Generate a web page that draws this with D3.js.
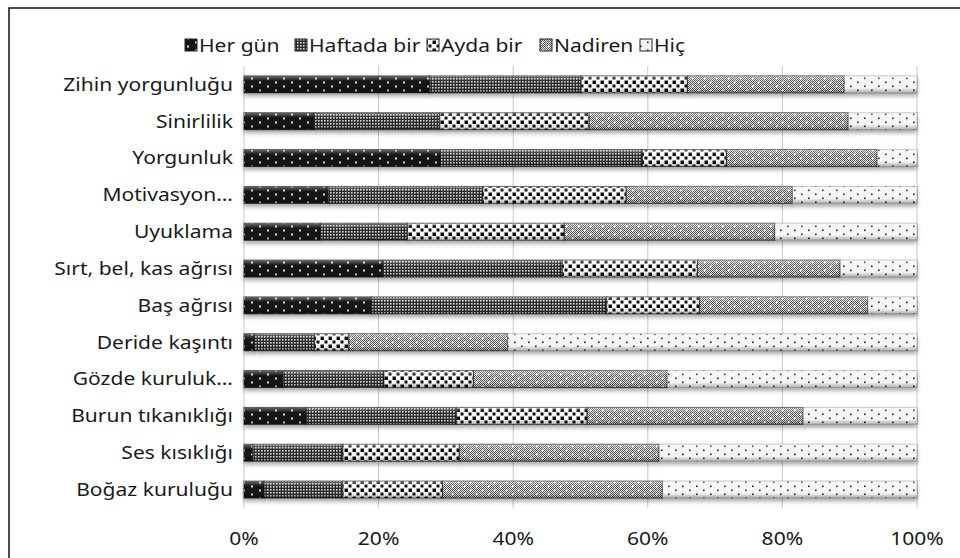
<!DOCTYPE html>
<html><head><meta charset="utf-8">
<script src="https://cdn.jsdelivr.net/npm/d3@7/dist/d3.min.js"></script>
<style>
html,body{margin:0;padding:0;background:#fff;}
svg{display:block;}
text{font-family:"Noto Sans",sans-serif;fill:#1a1a1a;}
</style></head><body>
<svg id="chart" width="960" height="558"></svg>
<script>
const categories = ["Zihin yorgunluğu","Sinirlilik","Yorgunluk","Motivasyon…","Uyuklama","Sırt, bel, kas ağrısı","Baş ağrısı","Deride kaşıntı","Gözde kuruluk…","Burun tıkanıklığı","Ses kısıklığı","Boğaz kuruluğu"];
const seriesNames = ["Her gün","Haftada bir","Ayda bir","Nadiren","Hiç"];
const herGun  = [27.6,10.4,29.2,12.5,11.4,20.6,19.0,1.6,5.8,9.3,1.3,3.0];
const haftada = [22.5,18.7,30.0,23.0,12.9,26.7,34.9,8.9,15.0,22.3,13.4,11.7];
const ayda    = [15.8,22.2,12.5,21.3,23.3,20.1,13.8,5.1,13.3,19.4,17.3,14.8];
const nadiren = [23.3,38.5,22.4,24.7,31.3,21.2,25.0,23.6,28.8,32.1,29.7,32.7];
const hic     = [10.8,10.2,5.9,18.5,21.1,11.4,7.3,60.8,37.1,16.9,38.3,37.8];
const tickValues = [0,20,40,60,80,100];
const tickLabels = ["0%","20%","40%","60%","80%","100%"];

const svg = d3.select("#chart");
const defs = svg.append("defs");
const SX = 1.17, FS = 18;

// frame
svg.append("rect").attr("x",9).attr("y",8).attr("width",1000).attr("height",600)
  .attr("fill","none").attr("stroke","#111").attr("stroke-width",1.5);

// patterns
function pat(id,w,h,bg,build){
  const p = defs.append("pattern").attr("id",id).attr("patternUnits","userSpaceOnUse")
    .attr("width",w).attr("height",h);
  p.append("rect").attr("width",w).attr("height",h).attr("fill",bg);
  build(p);
}
pat("p0",16,8,"#141414",p=>{
  p.append("rect").attr("x",3).attr("y",1.5).attr("width",2).attr("height",2).attr("fill","#ddd");
  p.append("rect").attr("x",11).attr("y",5.5).attr("width",2).attr("height",2).attr("fill","#ddd");
});
pat("p1",3,3,"#2b2b2b",p=>{
  p.append("rect").attr("x",0).attr("y",0).attr("width",1.6).attr("height",1.6).attr("fill","#d8d8d8");
});
pat("p2",8,8,"#fafafa",p=>{
  p.append("rect").attr("x",0.5).attr("y",0.5).attr("width",3.5).attr("height",3.5).attr("fill","#111");
  p.append("rect").attr("x",4.5).attr("y",4.5).attr("width",3).attr("height",3).attr("fill","#111");
});
pat("p3c",2,2,"#e6e6e6",p=>{
  p.append("rect").attr("x",0).attr("y",0).attr("width",1).attr("height",1).attr("fill","#555");
  p.append("rect").attr("x",1).attr("y",1).attr("width",1).attr("height",1).attr("fill","#555");
});
pat("p3",12,8,"url(#p3c)",p=>{
  p.append("rect").attr("x",2).attr("y",1.5).attr("width",1.6).attr("height",1.6).attr("fill","#fff");
  p.append("rect").attr("x",8).attr("y",5.5).attr("width",1.6).attr("height",1.6).attr("fill","#fff");
});
pat("p4",14,8,"#f6f6f6",p=>{
  p.append("rect").attr("x",3).attr("y",1.5).attr("width",1.6).attr("height",1.6).attr("fill","#222");
  p.append("rect").attr("x",10).attr("y",5.5).attr("width",1.6).attr("height",1.6).attr("fill","#222");
});
const fills = ["url(#p0)","url(#p1)","url(#p2)","url(#p3)","url(#p4)"];

const gloss = defs.append("linearGradient").attr("id","gloss").attr("x1",0).attr("y1",0).attr("x2",0).attr("y2",1);
[[0,"#fff",0.35],[0.3,"#fff",0],[0.7,"#000",0],[1,"#000",0.3]].forEach(s=>
  gloss.append("stop").attr("offset",s[0]).attr("stop-color",s[1]).attr("stop-opacity",s[2]));
const shadow = defs.append("filter").attr("id","shadow").attr("x","-5%").attr("y","-30%").attr("width","110%").attr("height","190%");
shadow.append("feDropShadow").attr("dx",0).attr("dy",3).attr("stdDeviation",2)
  .attr("flood-color","#000").attr("flood-opacity",0.35);

const x = d3.scaleLinear().domain([0,100]).range([244,917]);
const y = d3.scaleBand().domain(categories).range([66,508]).paddingInner(0.54).paddingOuter(0.27);

// gridlines
svg.append("g").selectAll("line").data(tickValues).join("line")
  .attr("x1",d=>x(d)).attr("x2",d=>x(d)).attr("y1",66).attr("y2",508)
  .attr("stroke","#c8c8c8").attr("stroke-width",1);

const table = categories.map((c,i)=>({cat:c,"Her gün":herGun[i],"Haftada bir":haftada[i],"Ayda bir":ayda[i],"Nadiren":nadiren[i],"Hiç":hic[i]}));
const stacked = d3.stack().keys(seriesNames)(table);

const gBars = svg.append("g");
stacked.forEach((s,si)=>{
  const g = gBars.append("g");
  g.selectAll("rect.seg").data(s).join("rect").attr("class","seg")
    .attr("x",d=>x(d[0])).attr("width",d=>x(d[1])-x(d[0]))
    .attr("y",d=>y(d.data.cat)).attr("height",y.bandwidth())
    .attr("fill",fills[si]).attr("filter","url(#shadow)")
    .attr("stroke","#1a1a1a").attr("stroke-opacity",si===4?0.25:0.7).attr("stroke-width",1);
  g.selectAll("rect.gl").data(s).join("rect").attr("class","gl")
    .attr("x",d=>x(d[0])).attr("width",d=>x(d[1])-x(d[0]))
    .attr("y",d=>y(d.data.cat)).attr("height",y.bandwidth())
    .attr("fill","url(#gloss)");
});

// y labels
svg.append("g").selectAll("text").data(categories).join("text")
  .attr("transform",d=>`translate(233,${y(d)+y.bandwidth()/2}) scale(${SX},1)`)
  .attr("dy","0.35em").attr("text-anchor","end").attr("font-size",FS).text(d=>d);

// x labels
svg.append("g").selectAll("text").data(tickValues).join("text")
  .attr("transform",d=>`translate(${x(d)},545) scale(${SX},1)`)
  .attr("text-anchor","middle").attr("font-size",FS)
  .text((d,i)=>tickLabels[i]);

// legend
const legX = [185,295,427,540,640];
const leg = svg.append("g");
seriesNames.forEach((n,i)=>{
  leg.append("rect").attr("x",legX[i]).attr("y",39).attr("width",12).attr("height",12)
    .attr("fill",fills[i]).attr("stroke","#222").attr("stroke-width",1);
  leg.append("text").attr("transform",`translate(${legX[i]+14},51.5) scale(${SX},1)`)
    .attr("font-size",FS).text(n);
});
</script></body></html>
